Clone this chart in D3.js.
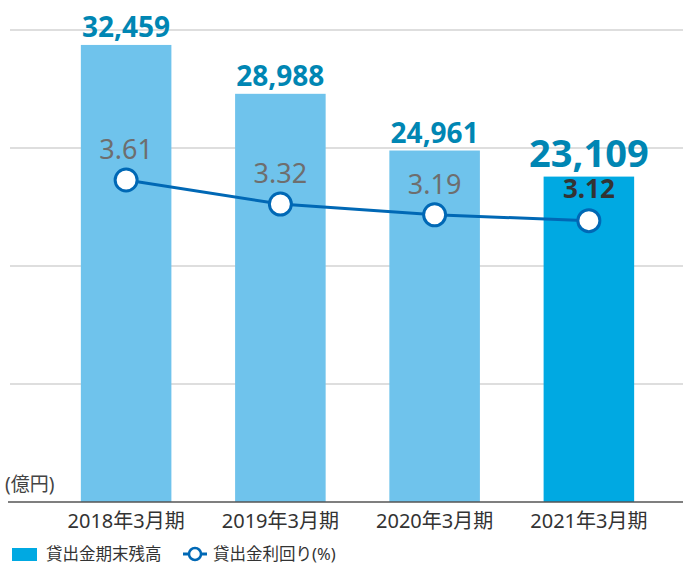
<!DOCTYPE html>
<html>
<head>
<meta charset="utf-8">
<script src="https://cdn.jsdelivr.net/npm/d3@7"></script>
<style>
body{margin:0;background:#fff;}
svg{display:block;font-family:"Noto Sans","Noto Sans CJK JP",sans-serif;}
</style>
</head>
<body>
<script>
const categories = ["2018年3月期", "2019年3月期", "2020年3月期", "2021年3月期"];
const balance = [32459, 28988, 24961, 23109];
const rates = [3.61, 3.32, 3.19, 3.12];
const gridValues = [0, 8380, 16760, 25140, 33520];

const W = 683, H = 564;
const SVG = d3.select("body").append("svg").attr("width", W).attr("height", H);

const x = d3.scaleBand().domain(categories).range([50, 665]).paddingInner(0.413).paddingOuter(0.2);
const y = d3.scaleLinear().domain([0, 33520]).range([502, 30]);
const yr = d3.scaleLinear().domain([-0.27, 5.417]).range([502, 30]);
const cx = i => x(categories[i]) + x.bandwidth() / 2;

// grid
SVG.selectAll(".grid").data(gridValues.slice(1)).enter().append("line")
  .attr("x1", 10).attr("x2", W)
  .attr("y1", d => y(d)).attr("y2", d => y(d))
  .attr("stroke", "#bdbdbd").attr("stroke-width", 1);

// bars
SVG.selectAll(".bar").data(balance).enter().append("rect")
  .attr("x", (d, i) => x(categories[i]))
  .attr("width", x.bandwidth())
  .attr("y", d => y(d))
  .attr("height", d => y(0) - y(d))
  .attr("fill", (d, i) => i == 3 ? "#00a9e2" : "#6fc3ec");

// baseline
SVG.append("line").attr("x1", 8).attr("x2", W).attr("y1", y(0)).attr("y2", y(0))
  .attr("stroke", "#555").attr("stroke-width", 1.5);

// bar labels
SVG.selectAll(".blabel").data(balance).enter().append("text")
  .attr("x", (d, i) => cx(i))
  .attr("y", (d, i) => y(d) - (i == 3 ? 10 : 8))
  .attr("text-anchor", "middle")
  .attr("font-weight", "bold")
  .attr("font-size", (d, i) => i == 3 ? 38 : 28)
  .attr("fill", "#0086b3")
  .text(d => d3.format(",")(d));

// rate line
const line = d3.line().x((d, i) => cx(i)).y(d => yr(d));
SVG.append("path").datum(rates).attr("d", line)
  .attr("fill", "none").attr("stroke", "#0068b5").attr("stroke-width", 3);
SVG.selectAll(".dot").data(rates).enter().append("circle")
  .attr("cx", (d, i) => cx(i))
  .attr("cy", d => yr(d))
  .attr("r", 11)
  .attr("fill", "#fff").attr("stroke", "#0068b5").attr("stroke-width", 3);

SVG.selectAll(".rlabel").data(rates).enter().append("text")
  .attr("x", (d, i) => cx(i))
  .attr("y", (d, i) => yr(d) - (i == 3 ? 23 : 21))
  .attr("text-anchor", "middle")
  .attr("font-size", (d, i) => i == 3 ? 26 : 27)
  .attr("font-weight", (d, i) => i == 3 ? "bold" : "normal")
  .attr("fill", (d, i) => i == 3 ? "#333" : "#6e6e6e")
  .text(d => d.toFixed(2));

// category labels
SVG.selectAll(".cat").data(categories).enter().append("text")
  .attr("x", d => x(d) + x.bandwidth() / 2)
  .attr("y", 528)
  .attr("text-anchor", "middle")
  .attr("font-size", 20)
  .attr("fill", "#333")
  .text(d => d);

// unit
SVG.append("text").attr("x", 5).attr("y", 491).attr("font-size", 19).attr("fill", "#444").text("(億円)");

// legend
const LEGEND = SVG.append("g").attr("transform", "translate(0,554)");
LEGEND.append("rect").attr("x", 12).attr("y", -6).attr("width", 25).attr("height", 13).attr("fill", "#00a9e2");
LEGEND.append("text").attr("x", 46).attr("y", 6).attr("font-size", 16.5).attr("fill", "#333").text("貸出金期末残高");
LEGEND.append("line").attr("x1", 183).attr("x2", 207).attr("y1", 0).attr("y2", 0).attr("stroke", "#0068b5").attr("stroke-width", 3);
LEGEND.append("circle").attr("cx", 195).attr("cy", 0).attr("r", 6).attr("fill", "#fff").attr("stroke", "#0068b5").attr("stroke-width", 2.5);
LEGEND.append("text").attr("x", 213).attr("y", 6).attr("font-size", 16.5).attr("fill", "#333").text("貸出金利回り(%)");
</script>
</body>
</html>
